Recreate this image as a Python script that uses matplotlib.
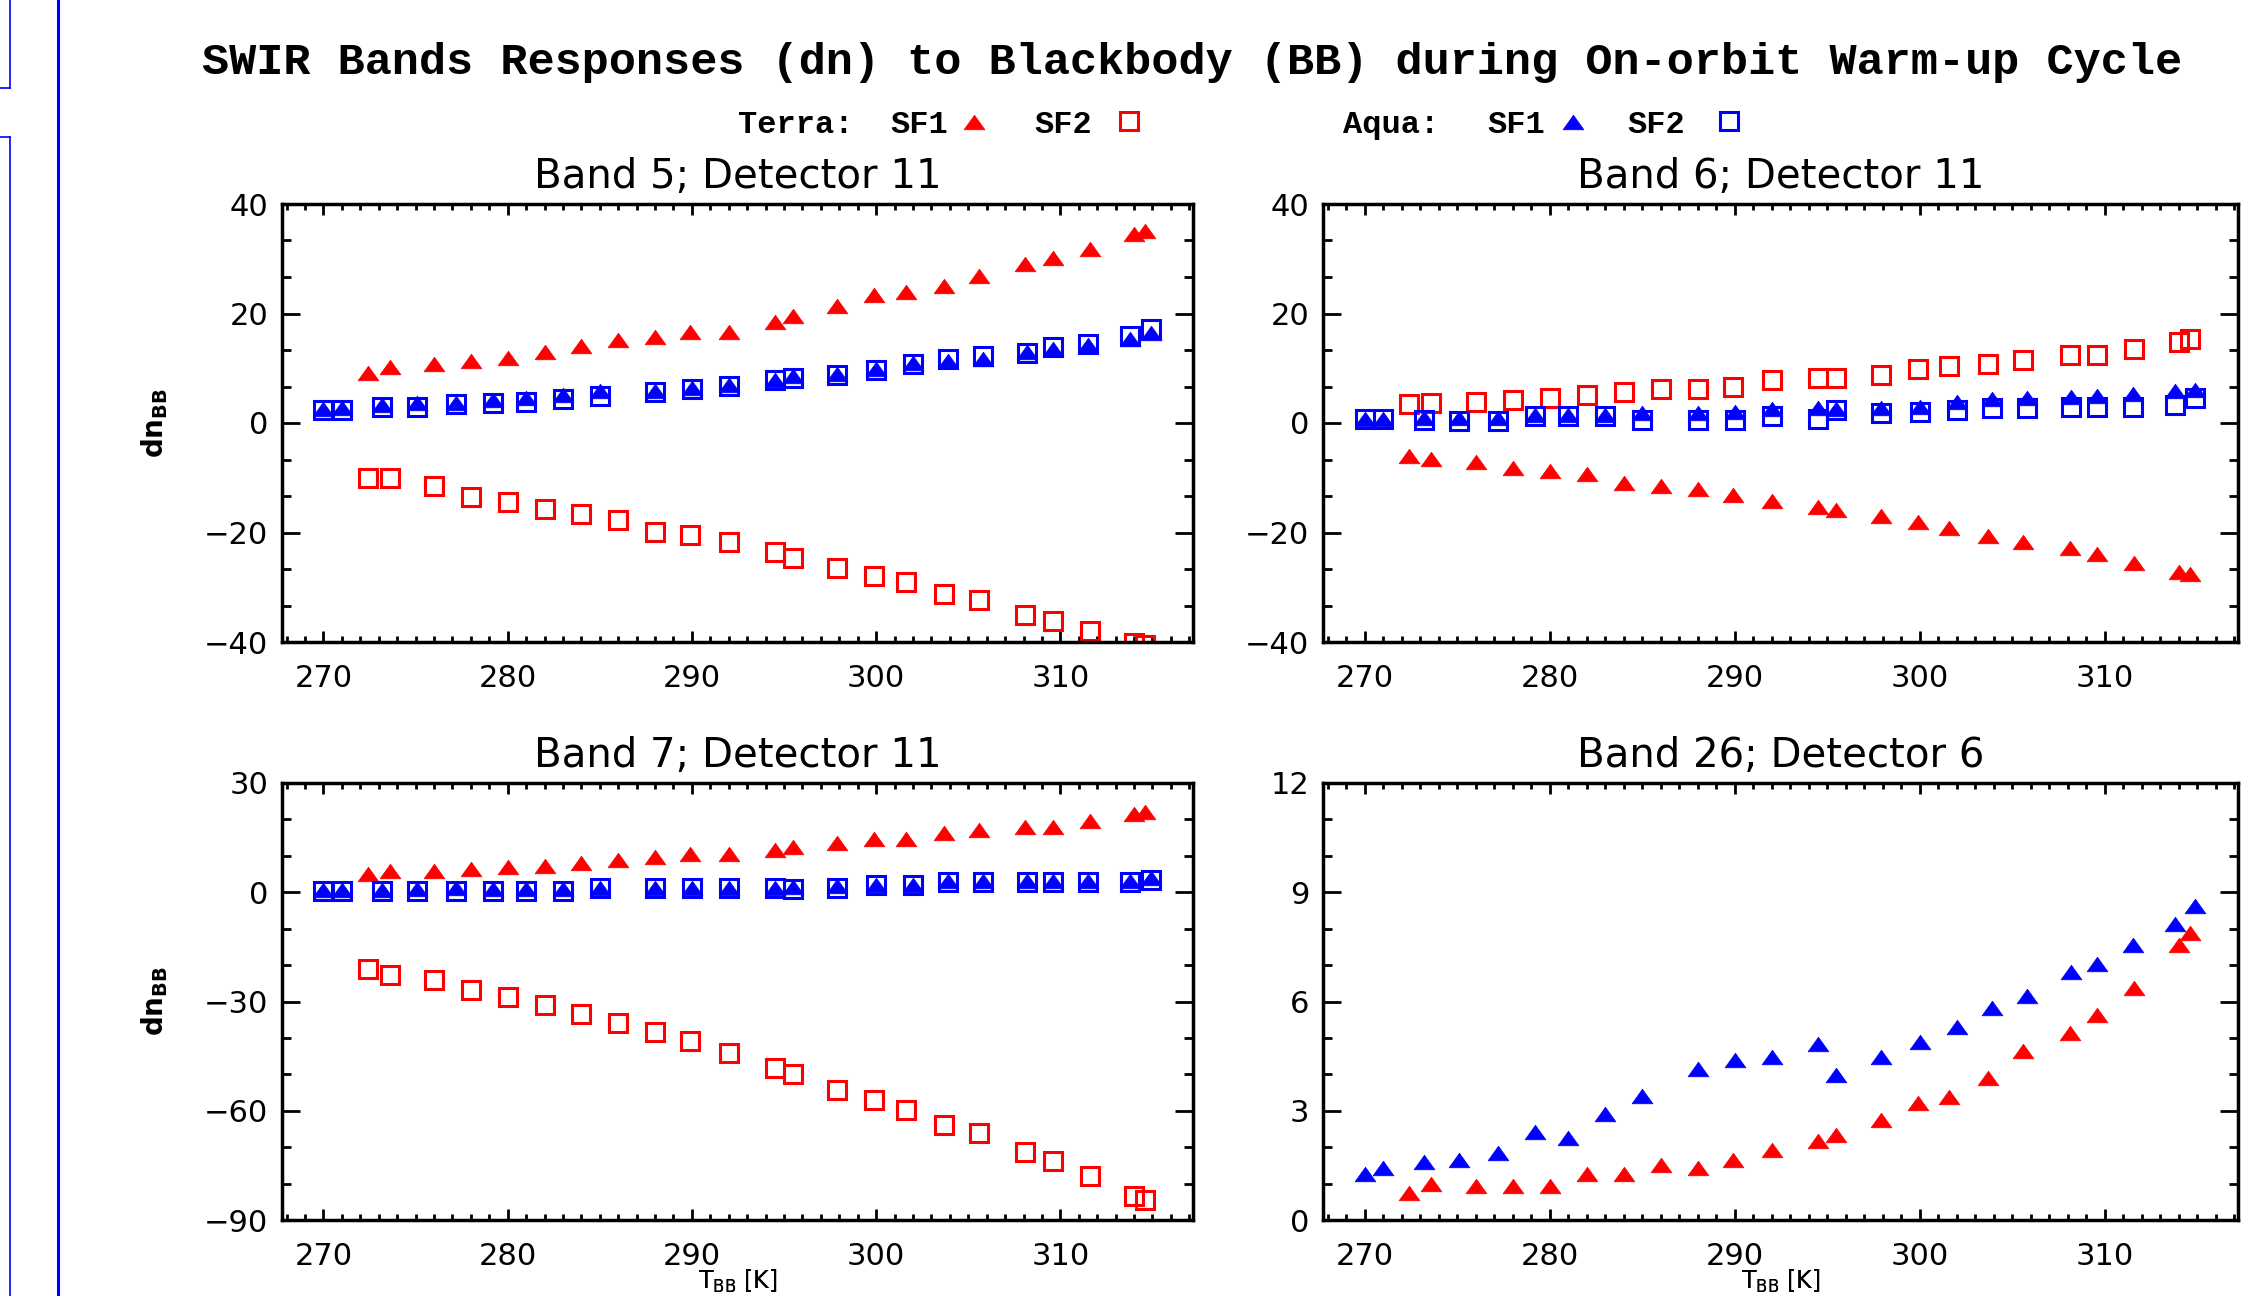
import matplotlib
matplotlib.use('Agg')
import matplotlib.pyplot as plt
from matplotlib.ticker import MultipleLocator, AutoMinorLocator
from matplotlib.lines import Line2D

# blackbody temperatures [K]
terra_T = [272.4, 273.6, 276.0, 278.0, 280.0, 282.0, 284.0, 286.0, 288.0, 289.9, 292.0, 294.5,
           295.5, 297.9, 299.9, 301.6, 303.7, 305.6, 308.1, 309.6, 311.6, 314.0, 314.6]
aqua_T = [270.0, 271.0, 273.2, 275.1, 277.2, 279.2, 281.0, 283.0, 285.0, 288.0, 290.0, 292.0,
          294.5, 295.5, 297.9, 300.0, 302.0, 303.9, 305.8, 308.2, 309.6, 311.5, 313.8, 314.9]

# Band 5, detector 11
b5_terra_sf1 = [9.1, 10.2, 10.7, 11.3, 11.8, 12.9, 14.0, 15.1, 15.7, 16.7, 16.7, 18.4,
                19.6, 21.3, 23.4, 24.0, 25.1, 26.8, 29.0, 30.2, 31.7, 34.5, 35.0]
b5_terra_sf2 = [-10.1, -10.1, -11.5, -13.5, -14.5, -15.7, -16.7, -17.7, -19.9, -20.4, -21.7, -23.6,
                -24.7, -26.4, -28.0, -29.1, -31.2, -32.4, -35.0, -36.1, -38.0, -40.2, -40.6]
b5_aqua_sf1 = [2.6, 2.8, 3.2, 3.6, 3.6, 4.2, 4.6, 5.2, 5.8, 5.8, 6.4, 6.9,
               7.9, 8.5, 9.0, 9.8, 10.9, 11.3, 11.6, 12.9, 13.5, 14.3, 15.4, 16.4]
b5_aqua_sf2 = [2.4, 2.4, 3.0, 3.0, 3.4, 3.6, 3.9, 4.3, 5.0, 5.6, 6.2, 6.7,
               7.8, 8.3, 8.8, 9.7, 10.7, 11.6, 12.2, 12.8, 13.9, 14.4, 15.9, 17.2]

# Band 6, detector 11
b6_terra_sf1 = [-6.1, -6.5, -7.2, -8.2, -8.8, -9.3, -11.0, -11.5, -12.1, -13.2, -14.2, -15.3,
                -15.9, -17.0, -18.0, -19.1, -20.6, -21.7, -22.8, -23.9, -25.5, -27.2, -27.6]
b6_terra_sf2 = [3.5, 3.7, 3.9, 4.2, 4.5, 5.2, 5.6, 6.2, 6.2, 6.6, 7.8, 8.3,
                8.3, 8.8, 9.9, 10.4, 10.7, 11.5, 12.5, 12.5, 13.6, 14.8, 15.3]
b6_aqua_sf1 = [0.8, 0.8, 0.9, 1.0, 1.0, 1.4, 1.4, 1.5, 1.8, 1.9, 2.1, 2.6,
               2.7, 2.5, 2.8, 3.0, 3.8, 4.3, 4.5, 4.8, 4.9, 5.3, 5.9, 6.0]
b6_aqua_sf2 = [0.7, 0.7, 0.6, 0.3, 0.3, 1.2, 1.2, 1.2, 0.6, 0.6, 0.6, 1.2,
               0.8, 2.3, 1.8, 2.0, 2.4, 2.7, 2.7, 3.0, 3.0, 3.0, 3.2, 4.5]

# Band 7, detector 11
b7_terra_sf1 = [4.9, 5.7, 5.7, 6.4, 6.8, 7.2, 8.1, 8.9, 9.7, 10.5, 10.5, 11.5,
                12.3, 13.5, 14.7, 14.7, 16.4, 17.2, 18.0, 18.0, 19.6, 21.5, 22.0]
b7_terra_sf2 = [-21.2, -22.7, -24.2, -26.8, -28.9, -30.9, -33.5, -35.8, -38.4, -40.9, -44.2, -48.3,
                -49.9, -54.2, -57.0, -59.7, -63.8, -66.2, -71.2, -73.7, -77.8, -83.3, -84.5]
b7_aqua_sf1 = [0.5, 0.5, 0.6, 0.9, 1.2, 0.9, 1.0, 0.9, 1.3, 1.3, 1.3, 1.3,
               1.3, 1.5, 1.8, 2.1, 2.1, 3.0, 3.0, 3.0, 3.0, 3.0, 3.0, 3.8]
b7_aqua_sf2 = [0.3, 0.3, 0.3, 0.3, 0.4, 0.4, 0.3, 0.4, 1.1, 1.1, 1.1, 1.1,
               1.1, 0.8, 1.1, 1.9, 1.9, 2.7, 2.7, 2.7, 2.7, 2.7, 2.7, 3.5]

# Band 26, detector 6 (SF1 only)
b26_terra_sf1 = [0.74, 1.0, 0.92, 0.92, 0.92, 1.25, 1.25, 1.50, 1.43, 1.65, 1.92, 2.17,
                 2.33, 2.74, 3.22, 3.39, 3.90, 4.65, 5.14, 5.64, 6.38, 7.56, 7.87]
b26_aqua_sf1 = [1.25, 1.43, 1.58, 1.66, 1.84, 2.43, 2.25, 2.91, 3.40, 4.14, 4.39, 4.47,
                4.82, 3.98, 4.47, 4.90, 5.31, 5.82, 6.14, 6.80, 7.04, 7.54, 8.12, 8.63]

titles = ['Band 5; Detector 11', 'Band 6; Detector 11', 'Band 7; Detector 11', 'Band 26; Detector 6']
ylims = [(-40, 40), (-40, 40), (-90, 30), (0, 12)]
ysteps = [20, 20, 30, 3]

W, H = 2260, 1296
plt.rcParams['font.family'] = 'DejaVu Sans'
fig = plt.figure(figsize=(22.6, 12.96), dpi=100)


def fx(px):
    return px / W


def fy(py):
    return 1 - py / H


RED = '#ff0000'
BLUE = '#0000ff'
tri = [(-1, -0.7), (1, -0.7), (0, 0.7), (-1, -0.7)]
tri_kw = dict(ls='none', marker=tri, ms=15, mew=0.5)
sq_kw = dict(ls='none', marker='s', ms=12.5, mfc='none', mew=2.2)

# axes boxes in pixels: left, top, right, bottom
boxes = [(282, 204, 1193, 642), (1323, 204, 2238, 642),
         (282, 783, 1193, 1220), (1323, 783, 2238, 1220)]

data = [
    (b5_terra_sf1, b5_terra_sf2, b5_aqua_sf1, b5_aqua_sf2),
    (b6_terra_sf1, b6_terra_sf2, b6_aqua_sf1, b6_aqua_sf2),
    (b7_terra_sf1, b7_terra_sf2, b7_aqua_sf1, b7_aqua_sf2),
    (b26_terra_sf1, None, b26_aqua_sf1, None),
]

for i, (l, t, r, b) in enumerate(boxes):
    ax = fig.add_axes([fx(l), fy(b), (r - l) / W, (b - t) / H])
    tsf1, tsf2, asf1, asf2 = data[i]
    ax.plot(terra_T, tsf1, color=RED, **tri_kw)
    if tsf2 is not None:
        ax.plot(terra_T, tsf2, color=RED, **sq_kw)
    ax.plot(aqua_T, asf1, color=BLUE, **tri_kw)
    if asf2 is not None:
        ax.plot(aqua_T, asf2, color=BLUE, **sq_kw)

    ax.set_xlim(267.75, 317.2)
    ax.set_ylim(*ylims[i])
    ax.xaxis.set_major_locator(MultipleLocator(10))
    ax.xaxis.set_minor_locator(MultipleLocator(1))
    ax.yaxis.set_major_locator(MultipleLocator(ysteps[i]))
    ax.yaxis.set_minor_locator(AutoMinorLocator(3))
    ax.tick_params(which='both', direction='in', top=True, right=True, width=2, labelsize=22)
    ax.tick_params(axis='x', which='major', length=8, pad=16)
    ax.tick_params(axis='x', which='minor', length=4.3)
    ax.tick_params(axis='y', which='major', length=13, pad=10)
    ax.tick_params(axis='y', which='minor', length=6.5)
    for sp in ax.spines.values():
        sp.set_linewidth(2.5)

    cx = (l + r) / 2
    fig.text(fx(cx), fy(t - 16), titles[i], ha='center', va='baseline', fontsize=29)
    # x label squeezed into the strip under the tick labels
    fig.text(fx(cx), fy(1268), r'T$_{\mathregular{BB}}$ [K]', ha='center', va='top', fontsize=17)

# y labels on left column
for yc in [423, 1001]:
    fig.text(fx(155), fy(yc), r'dn$_{\mathregular{BB}}$', rotation=90, ha='center', va='center',
             fontsize=20, fontweight='bold')

# main title and legend line
fig.text(fx(1192), fy(74), 'SWIR Bands Responses (dn) to Blackbody (BB) during On-orbit Warm-up Cycle',
         ha='center', va='baseline', fontsize=32.5, fontweight='bold', family='Liberation Mono')
leg_font = dict(ha='left', va='baseline', fontsize=23, fontweight='bold', family='Liberation Mono')
for x, s in [(738, 'Terra:'), (890, 'SF1'), (1034, 'SF2'), (1343, 'Aqua:'), (1487, 'SF1'), (1627, 'SF2')]:
    fig.text(fx(x), fy(133), s, **leg_font)
fig.add_artist(Line2D([fx(974)], [fy(122)], color=RED, transform=fig.transFigure, **tri_kw))
fig.add_artist(Line2D([fx(1129)], [fy(121)], color=RED, transform=fig.transFigure, **sq_kw))
fig.add_artist(Line2D([fx(1573)], [fy(122)], color=BLUE, transform=fig.transFigure, **tri_kw))
fig.add_artist(Line2D([fx(1729)], [fy(121)], color=BLUE, transform=fig.transFigure, **sq_kw))

# blue frame lines at the left edge of the page
edge = [([10, 10], [0, 88]), ([0, 10], [88, 88]), ([0, 10], [137, 137]), ([10, 10], [137, 1296])]
for xs, ys in edge:
    fig.add_artist(Line2D([fx(v) for v in xs], [fy(v) for v in ys], color=BLUE, lw=1.2,
                          transform=fig.transFigure))
fig.add_artist(Line2D([fx(58), fx(58)], [0, 1], color=BLUE, lw=2.2, transform=fig.transFigure))

fig.savefig('out.png', dpi=100)
